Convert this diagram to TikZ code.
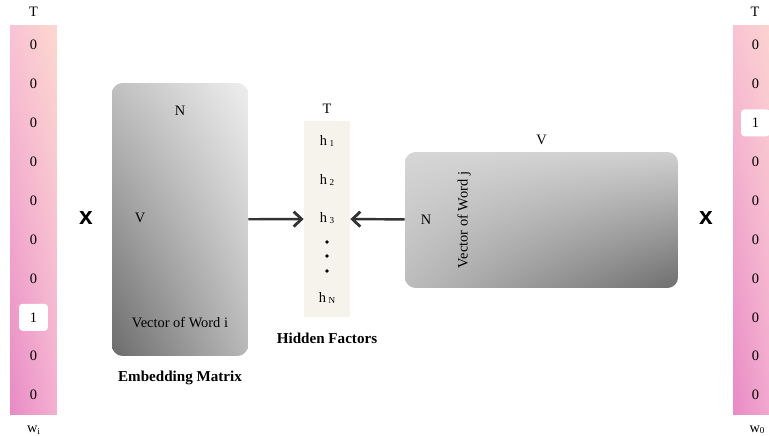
\documentclass[tikz,border=0pt]{standalone}
\usepackage{fontspec}
\setmainfont{Liberation Serif}
\newfontfamily\marksans{Liberation Sans}
\usetikzlibrary{arrows.meta, shadings}

\definecolor{pinkdeep}{HTML}{E88AC5}
\definecolor{pinkmid}{HTML}{F4B0D1}
\definecolor{pinklight}{HTML}{F9C3D4}
\definecolor{peach}{HTML}{FCD8CF}
\definecolor{hiddenfill}{HTML}{F6F3EC}
\definecolor{arrowgray}{HTML}{333333}

\tikzset{
	onehot/.style = {shade, minimum width = 0.94cm, minimum height = 7.8cm, inner sep = 0pt,
		upper left = pinklight, upper right = peach, lower left = pinkdeep, lower right = pinkmid},
	entry/.style = {font = \fontsize{8.2}{10}\selectfont, inner sep = 1pt},
	onebox/.style = {entry, fill = white, rounded corners = 2pt, minimum width = 0.58cm, minimum height = 0.54cm},
	label/.style = {font = \fontsize{8.2}{10}\selectfont, inner sep = 1pt},
	caption/.style = {font = \fontsize{8.6}{10}\selectfont\bfseries, inner sep = 1pt},
	timesmark/.style = {font = \marksans\bfseries\fontsize{14}{14}\selectfont, inner sep = 0pt},
	conn/.style = {-{Straight Barb[length = 4.5pt, width = 8.5pt, line width = 1.6pt]}, line width = 1.4pt, arrowgray}
}

\newcommand{\hsub}[1]{h\,{\fontsize{5.2}{6}\selectfont\raisebox{-0.35ex}{#1}}}

\begin{document}
\begin{tikzpicture}[x = 0.02cm, y = -0.02cm]

	\useasboundingbox (0, 0) rectangle (769, 436);
	\clip (0, 0) rectangle (769, 436);

	% Input one-hot vector

	\node [onehot] (wi) at (33.5, 220) {};
	\node [label] (wi-T) at (33.5, 12) {T};
	\node [label] (wi-name) at (33.5, 430) {w{\fontsize{5.2}{6}\selectfont\raisebox{-0.35ex}{i}}};

	\node [onebox] (wi-8) at (33.5, 317.3) {1};
	\foreach \k in {1, 2, ..., 7, 9, 10}
		\node [entry] (wi-\k) at (33.5, 45 + 38.9 * \k - 38.9) {0};

	\node [timesmark] (mul-l) at (86, 218) {x};

	% Embedding matrix

	\node [shade, rounded corners = 6pt, minimum width = 2.72cm, minimum height = 5.46cm,
		upper left = {rgb,255:red,192;green,192;blue,192}, upper right = {rgb,255:red,238;green,238;blue,238},
		lower left = {rgb,255:red,108;green,108;blue,108}, lower right = {rgb,255:red,184;green,184;blue,184}]
		(embed) at (180, 219.5) {};
	\node [label] (embed-N) at (180, 111) {N};
	\node [label] (embed-V) at (140, 218) {V};
	\node [label] (embed-word) at (180, 323) {Vector of Word i};
	\node [caption] (embed-name) at (180, 378) {Embedding Matrix};

	% Hidden factors

	\node [fill = hiddenfill, minimum width = 0.92cm, minimum height = 3.92cm, inner sep = 0pt] (hidden) at (327, 219) {};
	\node [label] (hidden-T) at (327, 109) {T};
	\foreach \y/\s in {141/1, 180/2, 218/3, 298/N}
		\node [label] (h-\s) at (327, \y) {\hsub{\s}};
	\foreach \y in {242, 256, 271}
		\fill (327, \y) circle (1.1pt);
	\node [caption] (hidden-name) at (327, 338) {Hidden Factors};

	% Context matrix

	\node [shade, rounded corners = 6pt, minimum width = 5.46cm, minimum height = 2.72cm,
		upper left = {rgb,255:red,214;green,214;blue,214}, upper right = {rgb,255:red,208;green,208;blue,208},
		lower left = {rgb,255:red,188;green,188;blue,188}, lower right = {rgb,255:red,110;green,110;blue,110}]
		(ctx) at (541.5, 220) {};
	\node [label] (ctx-V) at (541.5, 140) {V};
	\node [label] (ctx-N) at (426, 220) {N};
	\node [label, rotate = 90] (ctx-word) at (464, 220) {Vector of Word j};

	\node [timesmark] (mul-r) at (706, 218) {x};

	% Output one-hot vector

	\node [onehot] (wo) at (756.5, 220) {};
	\node [label] (wo-T) at (755, 12) {T};
	\node [label] (wo-name) at (757, 430) {w{\fontsize{5.2}{6}\selectfont\raisebox{-0.35ex}{0}}};

	\node [onebox] (wo-3) at (755.5, 122.8) {1};
	\foreach \k in {1, 2, 4, 5, ..., 10}
		\node [entry] (wo-\k) at (755.5, 45 + 38.9 * \k - 38.9) {0};

	% Connectors

	\draw [conn] (embed) -- (hidden);
	\draw [conn] (ctx) -- (hidden);

\end{tikzpicture}
\end{document}
